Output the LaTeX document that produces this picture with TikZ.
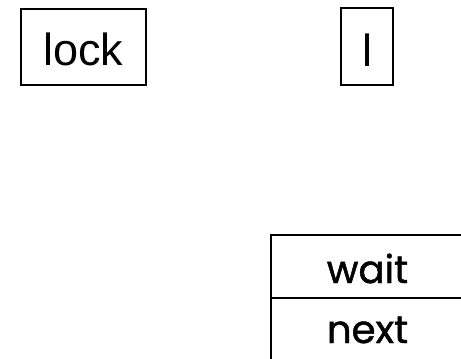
\documentclass[tikz,border=0pt]{standalone}
\usepackage{fontspec}
\setmainfont{Liberation Sans}
\newfontfamily\geofont[FakeBold=1.2]{Poppins}
\begin{document}
\begin{tikzpicture}[x=0.75pt,y=-0.75pt,
  box/.style={draw=black,line width=1.4pt},
  lbl/.style={anchor=base,inner sep=0pt,font=\fontsize{33.75}{36}\selectfont},
  glbl/.style={anchor=base,inner sep=0pt,font=\geofont\fontsize{29}{32}\selectfont}]
\useasboundingbox (0,0) rectangle (461,358);
\node[box,minimum width=125*0.75pt,minimum height=76*0.75pt,inner sep=0pt] (lockbox) at (83.5,47) {};
\node[lbl] (locktxt) at (83.5,65) {lock};
\node[box,minimum width=52*0.75pt,minimum height=77*0.75pt,inner sep=0pt] (lbox) at (367,46.5) {};
\node[lbl] (ltxt) at (367,66) {l};
\draw[box] (465,235) -- (271,235) -- (271,365);
\draw[box] (271,298) -- (465,298);
\node[glbl] (wait) at (367.5,283) {wait};
\node[glbl] (next) at (367.5,343) {next};
\end{tikzpicture}
\end{document}
